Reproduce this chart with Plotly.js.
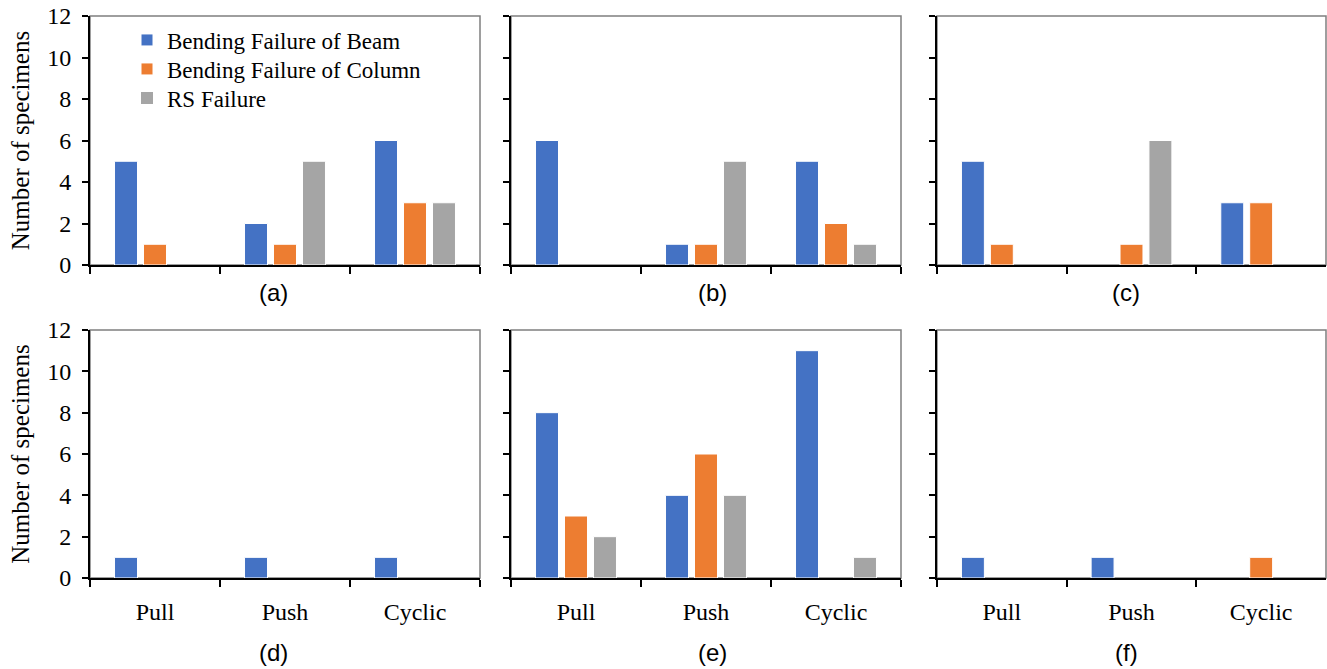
<!DOCTYPE html>
<html>
<head>
<meta charset="utf-8">
<script src="https://cdn.plot.ly/plotly-3.0.1.min.js"></script>
<style>
  html, body { margin: 0; padding: 0; background: #ffffff; }
  #chart { width: 1327px; height: 669px; }
</style>
</head>
<body>
<div id="chart"></div>
<script>
// Loading modes on the category axis
const loadingTypes = ["Pull", "Push", "Cyclic"];

// Failure modes (legend entries)
const seriesNames = ["Bending Failure of Beam", "Bending Failure of Column", "RS Failure"];
const seriesColors = ["#4472C4", "#ED7D31", "#A5A5A5"];

// Number of specimens per panel: [beam, column, RS], each over Pull / Push / Cyclic
const panelA = [[5, 2, 6], [1, 1, 3], [0, 5, 3]];
const panelB = [[6, 1, 5], [0, 1, 2], [0, 5, 1]];
const panelC = [[5, 0, 3], [1, 1, 3], [0, 6, 0]];
const panelD = [[1, 1, 1], [0, 0, 0], [0, 0, 0]];
const panelE = [[8, 4, 11], [3, 6, 0], [2, 4, 1]];
const panelF = [[1, 1, 0], [0, 0, 1], [0, 0, 0]];

const panelLabels = ["(a)", "(b)", "(c)", "(d)", "(e)", "(f)"];
const yTickValues = [0, 2, 4, 6, 8, 10, 12];

const panels = [panelA, panelB, panelC, panelD, panelE, panelF];

const W = 1327, H = 669;
// plot-area pixel boxes for the 3 columns and 2 rows
const colPx = [[90, 480], [511, 901], [937, 1326]];
const rowPx = [[16, 265], [330, 578]];
const labelCentersX = [273, 712, 1126];
const labelCentersY = [292, 652];
// one legend box per failure mode, stacked inside panel (a)
const legendIds = ["legend", "legend2", "legend3"];
const legendRowsY = [40, 69, 98];

const serif = "'Times New Roman', 'Liberation Serif', serif";
const sans = "Arial, 'Liberation Sans', sans-serif";

const traces = [];
const layout = {
  width: W, height: H,
  margin: { l: 0, r: 0, t: 0, b: 0 },
  paper_bgcolor: "#ffffff",
  plot_bgcolor: "#ffffff",
  barmode: "group",
  bargap: 0.331,
  bargroupgap: 0.207,
  showlegend: true,
  shapes: [],
  annotations: []
};

legendIds.forEach((id, i) => {
  layout[id] = {
    x: 127 / W, y: 1 - legendRowsY[i] / H, xanchor: "left", yanchor: "middle",
    bgcolor: "rgba(0,0,0,0)",
    borderwidth: 0,
    font: { family: serif, size: 23, color: "#000000" },
    itemwidth: 30
  };
});

panels.forEach((data, p) => {
  const col = p % 3, row = Math.floor(p / 3);
  const n = p + 1;
  const xName = n === 1 ? "x" : "x" + n;
  const yName = n === 1 ? "y" : "y" + n;

  data.forEach((vals, s) => {
    traces.push({
      type: "bar",
      x: loadingTypes,
      y: vals,
      name: seriesNames[s],
      legend: legendIds[s],
      showlegend: p === 0,
      xaxis: xName,
      yaxis: yName,
      marker: {
        color: seriesColors[s],
        // white edge only on bars that have height
        line: { color: "#ffffff", width: vals.map(v => (v > 0 ? 1 : 0)) }
      },
      hoverinfo: "skip"
    });
  });

  const [x0, x1] = colPx[col];
  const [yt, yb] = rowPx[row];

  layout["xaxis" + (n === 1 ? "" : n)] = {
    domain: [x0 / W, x1 / W],
    anchor: yName,
    type: "category",
    categoryorder: "array",
    categoryarray: loadingTypes,
    showline: true, linecolor: "#000000", linewidth: 2,
    ticks: "outside", tickson: "boundaries", ticklen: 7, tickwidth: 2, tickcolor: "#000000",
    showgrid: false, zeroline: false,
    showticklabels: row === 1,
    ticklabelstandoff: 11,
    tickfont: { family: serif, size: 24, color: "#000000" },
    fixedrange: true
  };

  layout["yaxis" + (n === 1 ? "" : n)] = {
    domain: [1 - yb / H, 1 - yt / H],
    anchor: xName,
    range: [0, 12],
    tickvals: yTickValues,
    showline: true, linecolor: "#000000", linewidth: 2,
    ticks: "outside", ticklen: 6, tickwidth: 2, tickcolor: "#000000",
    showgrid: false, zeroline: false,
    showticklabels: col === 0,
    ticklabelstandoff: 6,
    tickfont: { family: serif, size: 24, color: "#000000" },
    title: col === 0 ? { text: "Number of specimens", font: { family: serif, size: 25, color: "#000000" }, standoff: 10 } : { text: "" },
    fixedrange: true
  };

  // thin grey frame on the top and right of each plot area
  layout.shapes.push({
    type: "rect", xref: xName + " domain", yref: yName + " domain",
    x0: 0, x1: 1, y0: 0, y1: 1,
    line: { color: "#7f7f7f", width: 1.5 }, layer: "below"
  });

  layout.annotations.push({
    text: panelLabels[p],
    xref: "paper", yref: "paper",
    x: labelCentersX[col] / W, y: 1 - labelCentersY[row] / H,
    xanchor: "center", yanchor: "middle",
    showarrow: false,
    font: { family: sans, size: 24, color: "#000000" }
  });
});

Plotly.newPlot("chart", traces, layout, { displayModeBar: false, staticPlot: true });
</script>
</body>
</html>
